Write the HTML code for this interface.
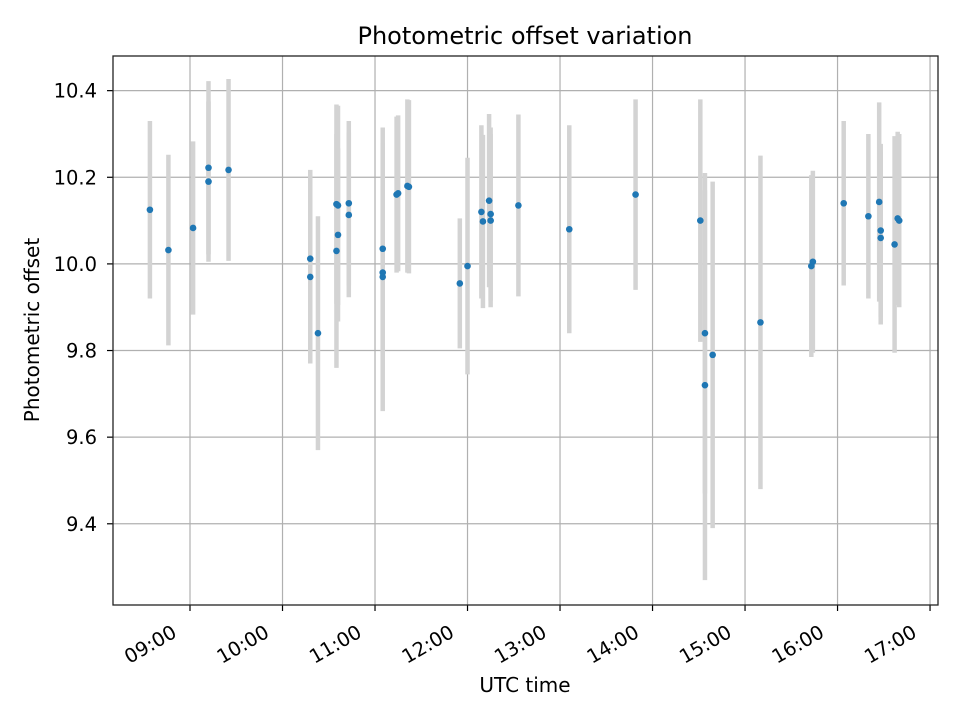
<!DOCTYPE html>
<html><head><meta charset="utf-8"><style>
body{margin:0;background:#fff;}
svg text{font-family:"DejaVu Sans","Liberation Sans",sans-serif;fill:#000;}
</style></head><body>
<svg id="chart" width="960" height="720" xmlns="http://www.w3.org/2000/svg">
<rect x="0" y="0" width="960" height="720" fill="#fff"/>
<g id="grid"></g><g id="bars"></g><g id="pts"></g><g id="axes"></g>
<text x="525" y="44" font-size="24" text-anchor="middle">Photometric offset variation</text>
<text x="525" y="692" font-size="20" text-anchor="middle">UTC time</text>
<text transform="translate(39,330) rotate(-90)" font-size="20" text-anchor="middle">Photometric offset</text>
</svg>
<script>
const times=["08:34","08:46","09:02","09:12","09:12","09:25","10:18","10:18","10:23","10:35","10:36","10:36","10:35","10:43","10:43","11:05","11:05","11:05","11:14","11:15","11:21","11:22","11:55","12:00","12:09","12:10","12:14","12:15","12:15","12:33","13:06","13:49","14:31","14:34","14:34","14:39","15:10","15:44","15:43","16:04","16:20","16:27","16:28","16:28","16:37","16:39","16:40"];
const values=[10.125,10.032,10.083,10.222,10.19,10.217,10.012,9.97,9.84,10.138,10.135,10.067,10.03,10.14,10.113,10.035,9.98,9.97,10.16,10.163,10.18,10.178,9.955,9.995,10.12,10.098,10.146,10.115,10.1,10.135,10.08,10.16,10.1,9.72,9.84,9.79,9.865,10.005,9.995,10.14,10.11,10.143,10.077,10.06,10.045,10.105,10.1];
const errors=[0.205,0.22,0.2,0.2,0.185,0.21,0.205,0.2,0.27,0.23,0.23,0.2,0.27,0.19,0.19,0.28,0.2,0.31,0.18,0.18,0.2,0.2,0.15,0.25,0.2,0.2,0.2,0.2,0.2,0.21,0.24,0.22,0.28,0.45,0.37,0.4,0.385,0.21,0.21,0.19,0.19,0.23,0.2,0.2,0.25,0.2,0.2];
const yTicks=[9.4,9.6,9.8,10.0,10.2,10.4];
const xTicks=["09:00","10:00","11:00","12:00","13:00","14:00","15:00","16:00","17:00"];
const L=113,R=938,T=56,B=605,X0=8.1676,X1=17.086,Y0=9.2125,Y1=10.480;
const hrs=s=>{const p=s.split(':');return +p[0]+ +p[1]/60;};
const sx=h=>L+(h-X0)/(X1-X0)*(R-L);
const sy=v=>B-(v-Y0)/(Y1-Y0)*(B-T);
const NS="http://www.w3.org/2000/svg";
function mk(tag,attrs,parent){const e=document.createElementNS(NS,tag);for(const k in attrs)e.setAttribute(k,attrs[k]);document.getElementById(parent).appendChild(e);return e;}
yTicks.forEach(v=>{const y=sy(v);
const g=mk('line',{x1:L,x2:R,y1:y,y2:y,stroke:'#b0b0b0','stroke-width':1.2},'grid');


const t=mk('line',{x1:L-6,x2:L,y1:y,y2:y,stroke:'#000','stroke-width':1.2},'axes');


const l=mk('text',{x:L-16,y:y+7,'font-size':19.5,'text-anchor':'end'},'axes');l.textContent=v.toFixed(1);


});
xTicks.forEach(s=>{const x=sx(hrs(s));
const g=mk('line',{x1:x,x2:x,y1:T,y2:B,stroke:'#b0b0b0','stroke-width':1.2},'grid');


const t=mk('line',{x1:x,x2:x,y1:B,y2:B+6,stroke:'#000','stroke-width':1.2},'axes');


const l=mk('text',{transform:`translate(${x-12},${B+31}) rotate(-30)`,'font-size':19.5,'text-anchor':'end'},'axes');l.textContent=s;


});
times.forEach((s,i)=>{const x=sx(hrs(s));
const b=mk('line',{x1:x,x2:x,y1:sy(values[i]+errors[i]),y2:sy(values[i]-errors[i]),stroke:'#d3d3d3','stroke-width':4.5},'bars');


const c=mk('circle',{cx:x,cy:sy(values[i]),r:3.3,fill:'#1f77b4'},'pts');


});
const f=mk('rect',{x:L,y:T,width:R-L,height:B-T,fill:'none',stroke:'#222','stroke-width':1.3},'axes');


</script>
</body></html>
